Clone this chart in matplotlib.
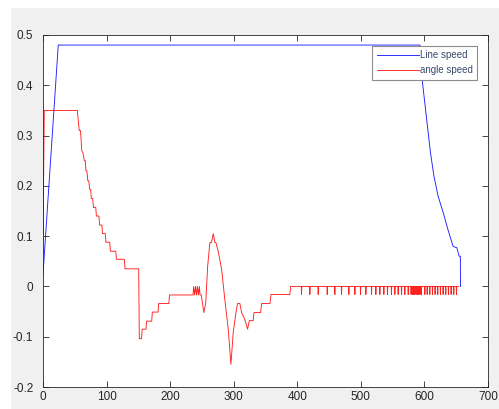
import matplotlib
matplotlib.use("Agg")
import matplotlib.pyplot as plt
from matplotlib.patches import Rectangle

# line speed (blue)
line_x = [0, 24, 593, 597, 603, 609.5, 615, 621.6, 629.5, 637, 645, 648, 651, 654.6, 656.5, 656.7]
line_y = [0.024, 0.48, 0.48, 0.405, 0.338, 0.266, 0.219, 0.179, 0.147, 0.113, 0.08, 0.078, 0.077, 0.06, 0.06, 0.0]

# angle speed (red), corner points
angle_x = [0, 2, 54, 57, 59, 61, 63, 65, 66.5, 67.5, 69, 70.5, 72, 73.5, 75, 76, 78, 79.5, 83, 84, 88, 89,
           92.7, 93.5, 98, 99, 105, 106, 114.5, 115.5, 128, 129, 150.5, 151.5, 155, 156, 162, 163, 171, 172,
           181, 182, 198, 199, 236, 237, 238.5, 240, 241.5, 243, 244.5, 246, 247, 249, 250.5, 253, 256, 259,
           262.5, 265, 267.8, 270.4, 272, 275.6, 281, 286, 291.4, 295.6, 299.2, 303.5, 306, 309.7, 312.4,
           317.6, 321.8, 324.5, 330.7, 331.8, 342.3, 343.9, 357, 358.5, 388.4, 389.5]
angle_y = [0.09, 0.35, 0.35, 0.31, 0.31, 0.27, 0.265, 0.25, 0.25, 0.23, 0.23, 0.21, 0.21, 0.193, 0.193, 0.175,
           0.175, 0.157, 0.157, 0.14, 0.14, 0.122, 0.122, 0.105, 0.105, 0.088, 0.088, 0.07, 0.07, 0.054,
           0.054, 0.035, 0.035, -0.104, -0.104, -0.085, -0.085, -0.069, -0.069, -0.051, -0.051, -0.034,
           -0.034, -0.017, -0.017, 0, -0.017, 0, -0.017, 0, -0.017, 0, -0.017, -0.017, -0.03, -0.052,
           -0.033, 0.04, 0.087, 0.087, 0.105, 0.087, 0.087, 0.07, 0.034, -0.026, -0.085, -0.155, -0.092,
           -0.052, -0.034, -0.034, -0.052, -0.066, -0.085, -0.068, -0.068, -0.052, -0.052, -0.034, -0.034,
           -0.016, -0.016, 0]
# small downward spikes on the zero level
spike_x = [406.7, 419.8, 432.9, 447.1, 459.1, 469.6, 481.1, 490.6, 499.5, 507.9, 516.8, 523.6, 529.9,
           536.2, 541.9, 548.2, 553.5, 558.7, 564, 569.2, 574.5, 579, 581, 583, 585, 587, 589, 591, 593,
           595, 600.6, 604.3, 608.5, 612.7, 616.8, 621, 625.2, 629.4, 633.6, 637.8, 642, 646.2, 650.4]
spike_depth = -0.016
angle_end = 654

for s in spike_x:
    angle_x += [s - 0.4, s, s + 0.4]
    angle_y += [0, spike_depth, 0]
angle_x.append(angle_end)
angle_y.append(0)

plt.rcParams['font.family'] = ['Liberation Sans', 'DejaVu Sans']
fig = plt.figure(figsize=(4.99, 4.09), dpi=100, facecolor='#f0f0f0')
fig.add_artist(Rectangle((0, 0), 10 / 499, 1, transform=fig.transFigure, color='white', zorder=-1))
fig.add_artist(Rectangle((0, 1 - 7 / 409), 1, 7 / 409, transform=fig.transFigure, color='white', zorder=-1))

ax = fig.add_axes([43 / 499, 1 - 387 / 409, 445 / 499, 352 / 409])
ax.plot(line_x, line_y, color='#2020ff', lw=0.65, label='Line speed')
ax.plot(angle_x, angle_y, color='#ff2020', lw=0.65, label='angle speed')

ax.set_xlim(0, 700)
ax.set_ylim(-0.2, 0.5)
ax.set_xticks(range(0, 701, 100))
ax.set_yticks([-0.2, -0.1, 0, 0.1, 0.2, 0.3, 0.4, 0.5])
ax.set_yticklabels(['-0.2', '-0.1', '0', '0.1', '0.2', '0.3', '0.4', '0.5'])
for sp in ax.spines.values():
    sp.set_color('#262626')
    sp.set_linewidth(0.6)
ax.tick_params(direction='in', length=4, width=0.6, colors='#262626', labelsize=8.5,
               top=True, right=True)
ax.tick_params(axis='y', pad=7)
ax.tick_params(axis='x', pad=3)

leg = ax.legend(loc='upper right', bbox_to_anchor=(0.975, 0.969), borderaxespad=0,
                fontsize=7, handlelength=4.3, handletextpad=0.1, fancybox=False,
                framealpha=1, edgecolor='#8c8c8c', borderpad=0.45, labelspacing=0.5)
leg.get_frame().set_linewidth(0.8)
for t in leg.get_texts():
    t.set_color('#3a4a6b')

fig.savefig('out.png', dpi=100, facecolor=fig.get_facecolor())
